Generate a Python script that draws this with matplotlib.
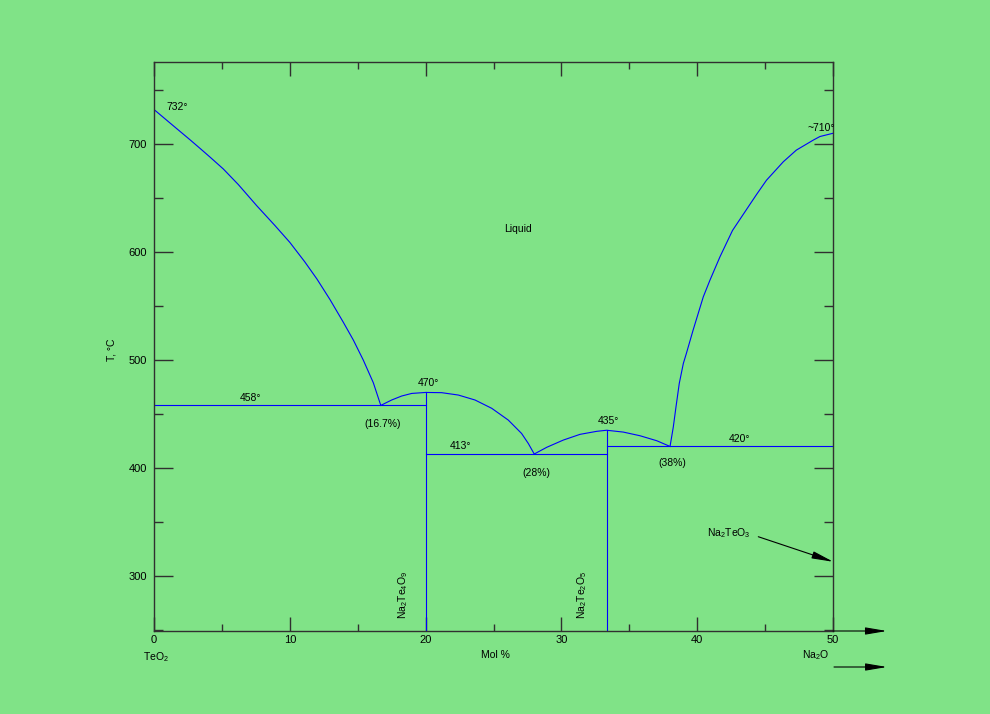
import matplotlib
matplotlib.use("Agg")
import matplotlib.pyplot as plt
from matplotlib.ticker import MultipleLocator

plt.rcParams['font.family'] = ['Liberation Sans', 'DejaVu Sans']
plt.rcParams['mathtext.fontset'] = 'custom'
plt.rcParams['mathtext.rm'] = 'Liberation Sans'
plt.rcParams['mathtext.it'] = 'Liberation Sans'

BG = '#80e387'
AX = '#303030'
BLUE = '#0000ff'

# ---- data ----
left_liq_x = [0, 1.18, 2.65, 3.39, 4.12, 5.1, 6.21, 7.56, 8.91, 10.0, 11.1, 12.0,
              12.96, 13.94, 14.68, 15.41, 16.15, 16.7]
left_liq_T = [732, 719.5, 704, 696, 688, 677, 662.5, 643, 624.5, 609, 591, 575,
              556, 535, 518.5, 500, 479, 458]
dome1_x = [16.7, 17.5, 18.24, 18.98, 20.0, 21.18, 22.41, 23.64, 24.87, 26.09, 27.07, 27.56, 28.0]
dome1_T = [458, 463, 466.7, 469.1, 470, 469.8, 467.6, 463, 455.3, 444.4, 432, 422.8, 413]
dome2_x = [28.0, 28.92, 30.14, 31.37, 32.6, 33.33, 34.56, 35.79, 37.02, 38.0]
dome2_T = [413, 419.2, 425.9, 431.2, 434, 435, 433.3, 429.9, 425.3, 420]
right_liq_x = [38.0, 38.24, 38.44, 38.68, 38.98, 39.2, 39.7, 40.45, 40.94, 41.68, 42.6,
               43.9, 44.38, 45.1, 46.34, 47.3, 48.55, 49.04, 50]
right_liq_T = [420, 438, 456.8, 478.4, 496.9, 506, 527.8, 558.6, 574, 595.7, 620,
               644.5, 653.5, 666.5, 683.6, 694.4, 703.7, 707, 710]

eutectic_T = [458, 413, 420]
eutectic_x0 = [0, 20, 33.33]
eutectic_x1 = [20, 33.33, 50]
compound_x = [20, 33.33]
compound_Tm = [470, 435]
compound_labels = [r'Na$_2$Te$_4$O$_9$', r'Na$_2$Te$_2$O$_5$']

xticks = [0, 10, 20, 30, 40, 50]
yticks = [300, 400, 500, 600, 700]

YMIN, YMAX = 249.1, 776

fig = plt.figure(figsize=(9.9, 7.14), dpi=100, facecolor=BG)
ax = fig.add_axes([154/990, 83/714, 679/990, 569/714], facecolor=BG)
ax.set_xlim(0, 50)
ax.set_ylim(YMIN, YMAX)

lw = 0.8
ax.plot(left_liq_x, left_liq_T, color=BLUE, lw=lw)
ax.plot(dome1_x, dome1_T, color=BLUE, lw=lw)
ax.plot(dome2_x, dome2_T, color=BLUE, lw=lw)
ax.plot(right_liq_x, right_liq_T, color=BLUE, lw=lw)
for T, a, b in zip(eutectic_T, eutectic_x0, eutectic_x1):
    ax.plot([a, b], [T, T], color=BLUE, lw=lw)
for x, T in zip(compound_x, compound_Tm):
    ax.plot([x, x], [YMIN, T], color=BLUE, lw=lw)

for s in ax.spines.values():
    s.set_color(AX)
    s.set_linewidth(1.0)

ax.set_xticks(xticks)
ax.set_yticks(yticks)
ax.xaxis.set_minor_locator(MultipleLocator(5))
ax.yaxis.set_minor_locator(MultipleLocator(50))
ax.tick_params(axis='x', which='major', direction='in', length=10, width=1, color=AX,
               top=True, bottom=True, labelsize=8, pad=3)
ax.tick_params(axis='x', which='minor', direction='in', length=5, width=1, color=AX,
               top=True, bottom=True)
ax.tick_params(axis='y', which='major', direction='in', length=13.5, width=1, color=AX,
               left=True, right=True, labelsize=8, pad=5)
ax.tick_params(axis='y', which='minor', direction='in', length=6.5, width=1, color=AX,
               left=True, right=True)

fs = 7.5
def t(x, y, s, **kw):
    kw.setdefault('ha', 'center')
    ax.text(x, y, s, fontsize=fs, color='black', va='center', **kw)

t(0.95, 734, '732°', ha='left')
t(7.07, 464.8, '458°')
t(16.86, 440.7, '(16.7%)')
t(20.18, 478.7, '470°')
t(22.6, 420.4, '413°')
t(28.13, 395.4, '(28%)')
t(33.43, 443.5, '435°')
t(38.14, 404.6, '(38%)')
t(43.15, 426.9, '420°')
t(49.1, 714.8, '~710°', clip_on=False)
t(26.8, 621.3, 'Liquid')
t(42.34, 339.8, r'Na$_2$TeO$_3$')
for x, lab in zip([18.34, 31.5], compound_labels):
    t(x, 282.4, lab, rotation=90)

arrow_style = dict(arrowstyle='-|>,head_length=1.3,head_width=0.22',
                   color='black', lw=0.8, shrinkA=0, shrinkB=0)
ax.annotate('', xy=(50.02, 313.2), xytext=(44.5, 336.4), arrowprops=arrow_style)
# axis extension arrows
ax.annotate('', xy=(53.97, YMIN), xytext=(50, YMIN), annotation_clip=False,
            arrowprops=arrow_style)
ax.annotate('', xy=(887, 714 - 667), xytext=(834, 714 - 667),
            xycoords='figure pixels', textcoords='figure pixels',
            annotation_clip=False, arrowprops=arrow_style)

fig.text(156/990, 1 - 657/714, r'TeO$_2$', fontsize=fs, ha='center', va='center')
fig.text(495/990, 1 - 655/714, 'Mol %', fontsize=fs, ha='center', va='center')
fig.text(816/990, 1 - 655/714, r'Na$_2$O', fontsize=fs, ha='center', va='center')
fig.text(111.7/990, 1 - 350/714, 'T, °C', fontsize=fs, ha='center', va='center', rotation=90)

fig.savefig('out.png', dpi=100, facecolor=BG)
